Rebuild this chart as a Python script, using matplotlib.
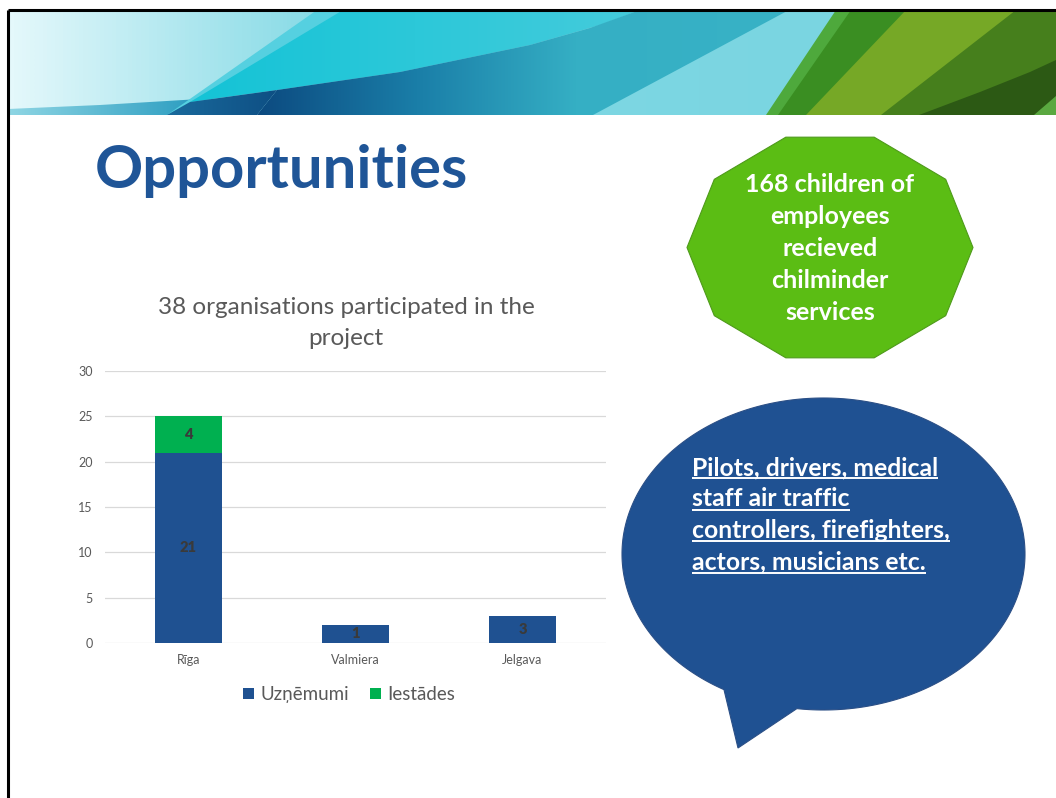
import numpy as np
import matplotlib
matplotlib.use('Agg')
import matplotlib.pyplot as plt
from matplotlib.patches import Polygon, Rectangle, PathPatch
from matplotlib.path import Path
from matplotlib.colors import LinearSegmentedColormap

plt.rcParams['font.family'] = ['Lato', 'DejaVu Sans']

# chart data
cities = ['Rīga', 'Valmiera', 'Jelgava']
uznemumi = [21, 2, 3]
iestades = [4, 0, 0]
uznemumi_labels = ['21', '1', '3']
iestades_labels = ['4', '', '']
series_names = ['Uzņēmumi', 'Iestādes']
series_colors = ['#1f5191', '#00b050']
yticks = [0, 5, 10, 15, 20, 25, 30]

chart_title = '38 organisations participated in the\nproject'
slide_title = 'Opportunities'
green_lines = ['168 children of', 'employees', 'recieved', 'chilminder', 'services']
bubble_lines = ['Pilots, drivers, medical', 'staff air traffic',
                'controllers, firefighters,', 'actors, musicians etc.']

W, H = 1056, 798
fig = plt.figure(figsize=(W / 100, H / 100), dpi=100, facecolor='white')

# slide layer in pixel coords (y down)
bg = fig.add_axes([0, 0, 1, 1])
bg.set_xlim(0, W)
bg.set_ylim(H, 0)
bg.axis('off')


def grad_poly(verts, colors, x0, x1, z):
    poly = Polygon(verts, closed=True, facecolor='none', edgecolor='none', zorder=z)
    bg.add_patch(poly)
    cmap = LinearSegmentedColormap.from_list('g', colors)
    im = bg.imshow(np.linspace(0, 1, 256)[None, :], cmap=cmap, extent=(x0, x1, 115, 10),
                   aspect='auto', zorder=z, interpolation='bilinear')
    im.set_clip_path(poly)


def flat_poly(verts, color, z):
    bg.add_patch(Polygon(verts, closed=True, facecolor=color, edgecolor='none', zorder=z))


# banner
grad_poly([(8, 10), (W, 10), (W, 115), (8, 115)],
          [(0, '#e4f8fb'), (0.32, '#7fd8e4'), (1, '#78d4e0')], 8, W, 1)
grad_poly([(8, 109), (100, 105), (200, 99), (200, 115), (8, 115)],
          ['#8fd6e4', '#2a9cc0'], 8, 200, 2)
flat_poly([(167, 115), (317, 10), (345, 10), (195, 110)], '#55d0e0', 2)
grad_poly([(190, 102), (343, 10), (640, 10), (600, 25), (530, 45), (400, 72), (277, 90)],
          ['#14c3d6', '#2cc8d9', '#45cbdb'], 190, 640, 3)
grad_poly([(257, 115), (277, 90), (400, 72), (530, 45), (590, 28), (640, 10),
           (789, 10), (593, 115)],
          [(0, '#0c4a80'), (0.3, '#1a7ea8'), (0.6, '#35afc4'), (1, '#38b2c6')], 257, 789, 4)
grad_poly([(167, 115), (190, 102), (277, 90), (257, 115)],
          ['#1a6a9c', '#0e4f84'], 167, 277, 4)
flat_poly([(766, 115), (836, 10), (W, 10), (W, 115)], '#4ea93c', 5)
flat_poly([(778, 115), (851, 10), (W, 10), (W, 115)], '#3a8e22', 6)
flat_poly([(806, 115), (906, 10), (W, 10), (W, 115)], '#76a826', 7)
flat_poly([(881, 115), (1016, 10), (W, 10), (W, 115)], '#467f1c', 8)
flat_poly([(919, 115), (980, 92), (1030, 72), (W, 60), (W, 115)], '#2c5914', 9)
flat_poly([(1034, 115), (W, 96), (W, 115)], '#5aa840', 10)

# slide border
bg.plot([8, W], [10, 10], color='black', lw=2.2, zorder=12, solid_capstyle='butt')
bg.plot([8, 8], [10, H], color='black', lw=2.2, zorder=12, solid_capstyle='butt')

# title
bg.text(95, 188, slide_title, fontsize=43, fontweight='bold', color='#1f5597',
        ha='left', va='baseline', zorder=12)

# green decagon
cx, cy, rx, ry = 830, 247.5, 143, 116
ang = np.deg2rad(np.arange(0, 360, 36))
dec = np.column_stack([cx + rx * np.cos(ang), cy + ry * np.sin(ang)])
bg.add_patch(Polygon(dec, closed=True, facecolor='#5bbd14', edgecolor='#4e9a1a',
                     lw=0.8, zorder=5))
for i, s in enumerate(green_lines):
    bg.text(830, 185 + i * 31.75, s, fontsize=18, fontweight='bold', color='white',
            ha='center', va='center', zorder=6)

# speech bubble
bx, by, brx, bry = 823.5, 554, 201.5, 156
t = np.deg2rad(np.linspace(119.6, 360 + 97.6, 300))
pts = np.column_stack([bx + brx * np.cos(t), by + bry * np.sin(t)])
pts = np.vstack([pts, [[738, 748]], pts[:1]])
codes = [Path.MOVETO] + [Path.LINETO] * (len(pts) - 2) + [Path.CLOSEPOLY]
bg.add_patch(PathPatch(Path(pts, codes), facecolor='#1f5192', edgecolor='#2b4f86',
                       lw=0.8, zorder=5))
bubble_txt = []
for i, s in enumerate(bubble_lines):
    bubble_txt.append(bg.text(692, 475 + i * 31.5, s, fontsize=17.8, fontweight='bold',
                              color='white', ha='left', va='baseline', zorder=6))

# chart
ax = fig.add_axes([105 / W, 155 / H, 501 / W, 272 / H], zorder=3)
ax.patch.set_alpha(0)
xpos = np.arange(len(cities))
b1 = ax.bar(xpos, uznemumi, width=0.4, color=series_colors[0], zorder=2)
b2 = ax.bar(xpos, iestades, width=0.4, bottom=uznemumi, color=series_colors[1], zorder=2)
ax.bar_label(b1, labels=uznemumi_labels, label_type='center', fontsize=10.5,
             fontweight='heavy', color='#3a3a3a')
ax.bar_label(b2, labels=iestades_labels, label_type='center', fontsize=10.5,
             fontweight='heavy', color='#3a3a3a')
ax.set_xlim(-0.5, 2.5)
ax.set_ylim(0, 30)
ax.set_yticks(yticks)
ax.set_xticks(xpos)
ax.set_xticklabels(cities)
ax.yaxis.grid(True, color='#d9d9d9', lw=0.9)
ax.set_axisbelow(True)
for sp in ax.spines.values():
    sp.set_visible(False)
ax.tick_params(length=0, labelsize=9, labelcolor='#595959')
ax.tick_params(axis='y', pad=9)
ax.tick_params(axis='x', pad=8)

fig.text(346 / W, 1 - 323 / H, chart_title, fontsize=17.5, color='#595959',
         ha='center', va='center', linespacing=1.6)

# legend drawn by hand so both labels share one baseline
leg_x = [243, 370]
for name, col, lx in zip(series_names, series_colors, leg_x):
    bg.add_patch(Rectangle((lx, 688), 11, 11, facecolor=col, edgecolor='none', zorder=6))
    bg.text(lx + 17, 700, name, fontsize=13.5, color='#595959', ha='left',
            va='baseline', zorder=6)

# underline bubble text
fig.canvas.draw()
rend = fig.canvas.get_renderer()
inv = bg.transData.inverted()
for i, tx in enumerate(bubble_txt):
    bb = tx.get_window_extent(rend)
    x0 = inv.transform((bb.x0, 0))[0]
    x1 = inv.transform((bb.x1, 0))[0]
    yb = 475 + i * 31.5 + 3
    bg.plot([x0, x1], [yb, yb], color='white', lw=1.4, zorder=6, solid_capstyle='butt')

bg.set_xlim(0, W)
bg.set_ylim(H, 0)
fig.savefig('out.png', dpi=100, facecolor='white')
